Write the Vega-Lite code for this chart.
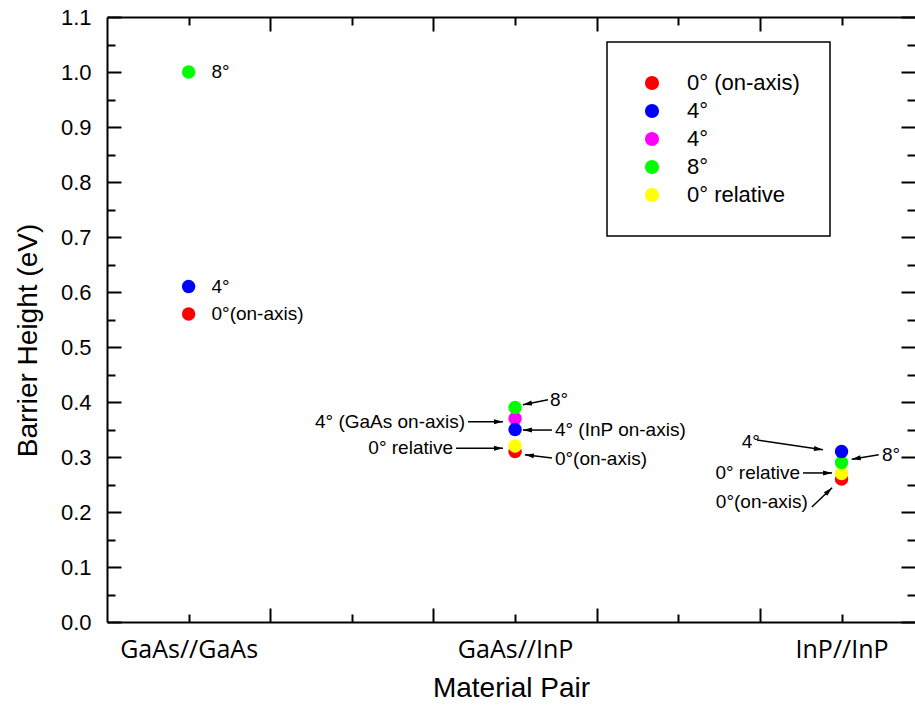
{
  "$schema": "https://vega.github.io/schema/vega-lite/v6.json",
  "width": 808,
  "height": 605,
  "autosize": {"type": "none"},
  "padding": {"left": 107, "top": 17, "right": 0, "bottom": 85},
  "background": "white",
  "config": {"view": {"stroke": null}},
  "datasets": {
    "points": [
      {"pair": 1, "bh": 0.56, "s": "a"},
      {"pair": 1, "bh": 0.61, "s": "b"},
      {"pair": 1, "bh": 1.0, "s": "d"},
      {"pair": 2, "bh": 0.31, "s": "a"},
      {"pair": 2, "bh": 0.37, "s": "c"},
      {"pair": 2, "bh": 0.32, "s": "e"},
      {"pair": 2, "bh": 0.39, "s": "d"},
      {"pair": 2, "bh": 0.35, "s": "b"},
      {"pair": 3, "bh": 0.26, "s": "a"},
      {"pair": 3, "bh": 0.27, "s": "e"},
      {"pair": 3, "bh": 0.29, "s": "d"},
      {"pair": 3, "bh": 0.31, "s": "b"}
    ],
    "labelsLeft": [
      {"x": 1.07, "y": 1.0, "t": "8°"},
      {"x": 1.07, "y": 0.61, "t": "4°"},
      {"x": 1.07, "y": 0.56, "t": "0°(on-axis)"},
      {"x": 2.107, "y": 0.404, "t": "8°"},
      {"x": 2.122, "y": 0.349, "t": "4° (InP on-axis)"},
      {"x": 2.122, "y": 0.296, "t": "0°(on-axis)"},
      {"x": 3.124, "y": 0.304, "t": "8°"}
    ],
    "labelsRight": [
      {"x": 1.847, "y": 0.364, "t": "4° (GaAs on-axis)"},
      {"x": 1.81, "y": 0.316, "t": "0° relative"},
      {"x": 2.75, "y": 0.327, "t": "4°"},
      {"x": 2.873, "y": 0.271, "t": "0° relative"},
      {"x": 2.897, "y": 0.218, "t": "0°(on-axis)"}
    ],
    "arrows": [
      {"x": 2.101, "y": 0.404, "x2": 2.024, "y2": 0.395},
      {"x": 1.856, "y": 0.364, "x2": 1.963, "y2": 0.364},
      {"x": 2.113, "y": 0.349, "x2": 2.024, "y2": 0.349},
      {"x": 1.819, "y": 0.316, "x2": 1.963, "y2": 0.316},
      {"x": 2.113, "y": 0.298, "x2": 2.03, "y2": 0.304},
      {"x": 2.741, "y": 0.331, "x2": 2.943, "y2": 0.313},
      {"x": 3.114, "y": 0.304, "x2": 3.031, "y2": 0.296},
      {"x": 2.882, "y": 0.271, "x2": 2.971, "y2": 0.271},
      {"x": 2.909, "y": 0.209, "x2": 2.971, "y2": 0.244}
    ]
  },
  "resolve": {"axis": {"x": "independent", "y": "independent"}},
  "layer": [
    {
      "data": {"name": "points"},
      "mark": {"type": "point", "filled": true, "opacity": 0},
      "encoding": {
        "x": {"field": "pair", "type": "quantitative",
          "scale": {"domain": [0.75, 3.225], "nice": false, "zero": false},
          "axis": {"orient": "top", "values": [1, 1.25, 1.5, 1.75, 2, 2.25, 2.5, 2.75, 3],
            "labels": false, "title": null, "grid": false,
            "domainColor": "black", "domainWidth": 2, "tickColor": "black", "tickWidth": 2,
            "tickSize": {"condition": {"test": "datum.value % 0.5 == 0", "value": -8}, "value": -14}}},
        "y": {"field": "bh", "type": "quantitative",
          "scale": {"domain": [0, 1.1], "nice": false},
          "axis": {"orient": "right", "values": [0, 0.05, 0.1, 0.15, 0.2, 0.25, 0.3, 0.35, 0.4, 0.45, 0.5, 0.55, 0.6, 0.65, 0.7, 0.75, 0.8, 0.85, 0.9, 0.95, 1.0, 1.05, 1.1],
            "labels": false, "title": null, "grid": false, "domain": false,
            "tickColor": "black", "tickWidth": 2,
            "tickSize": {"condition": {"test": "round(datum.value*100) % 10 != 0", "value": -8}, "value": -14}}}
      }
    },
    {
      "data": {"name": "arrows"},
      "mark": {"type": "rule", "color": "black", "strokeWidth": 1.5},
      "encoding": {
        "x": {"field": "x", "type": "quantitative", "axis": null},
        "y": {"field": "y", "type": "quantitative", "axis": null},
        "x2": {"field": "x2"},
        "y2": {"field": "y2"}
      }
    },
    {
      "data": {"name": "arrows"},
      "transform": [{"calculate": "atan2((datum.x2 - datum.x) * 326.5, (datum.y2 - datum.y) * 550) * 180 / PI", "as": "ang"}],
      "mark": {"type": "point", "filled": true, "color": "black", "opacity": 1, "shape": "M0,0L0.5,1.8L-0.5,1.8Z", "size": 100},
      "encoding": {
        "x": {"field": "x2", "type": "quantitative", "axis": null},
        "y": {"field": "y2", "type": "quantitative", "axis": null},
        "angle": {"field": "ang", "type": "quantitative", "scale": null}
      }
    },
    {
      "data": {"name": "points"},
      "mark": {"type": "point", "filled": true, "opacity": 1, "size": 180},
      "encoding": {
        "x": {"field": "pair", "type": "quantitative",
          "axis": {"orient": "bottom", "values": [1, 1.25, 1.5, 1.75, 2, 2.25, 2.5, 2.75, 3],
            "labelExpr": "datum.value == 1 ? 'GaAs//GaAs' : datum.value == 2 ? 'GaAs//InP' : datum.value == 3 ? 'InP//InP' : ''",
            "labelFont": "Open Sans", "labelFontSize": 25, "labelColor": "black", "labelPadding": 23,
            "title": "Material Pair", "titleFont": "Liberation Sans", "titleFontSize": 28, "titleFontWeight": "normal", "titleColor": "black", "titlePadding": 12,
            "grid": false, "domainColor": "black", "domainWidth": 2, "tickColor": "black", "tickWidth": 2,
            "tickSize": {"condition": {"test": "datum.value % 0.5 == 0", "value": -8}, "value": -14}}},
        "y": {"field": "bh", "type": "quantitative",
          "axis": {"orient": "left", "values": [0, 0.05, 0.1, 0.15, 0.2, 0.25, 0.3, 0.35, 0.4, 0.45, 0.5, 0.55, 0.6, 0.65, 0.7, 0.75, 0.8, 0.85, 0.9, 0.95, 1.0, 1.05, 1.1],
            "labelExpr": "round(datum.value*100) % 10 == 0 ? format(datum.value, '.1f') : ''",
            "labelFont": "Liberation Sans", "labelFontSize": 22, "labelColor": "black", "labelPadding": 30,
            "title": "Barrier Height (eV)", "titleFont": "Liberation Sans", "titleFontSize": 28, "titleFontWeight": "normal", "titleColor": "black",
            "titleX": -71, "titleY": 323, "titleBaseline": "alphabetic", "titleAngle": 270,
            "grid": false, "domainColor": "black", "domainWidth": 2, "tickColor": "black", "tickWidth": 2,
            "tickSize": {"condition": {"test": "round(datum.value*100) % 10 != 0", "value": -8}, "value": -14}}},
        "color": {"field": "s", "type": "nominal",
          "scale": {"domain": ["a", "b", "c", "d", "e"], "range": ["#ff0000", "#0000ff", "#ff00ff", "#00ff00", "#ffff00"]},
          "legend": {"orient": "none", "legendX": 500, "legendY": 25, "title": null,
            "labelExpr": "datum.label == 'a' ? '0° (on-axis)' : datum.label == 'b' ? '4°' : datum.label == 'c' ? '4°' : datum.label == 'd' ? '8°' : '0° relative'",
            "labelFont": "Liberation Sans", "labelFontSize": 22, "labelColor": "black",
            "symbolType": "circle", "symbolSize": 200, "symbolStrokeWidth": 0, "symbolOpacity": 1,
            "strokeColor": "black", "padding": 30, "symbolOffset": 4, "labelOffset": 24, "rowPadding": 6,
            "encode": {"legend": {"update": {"strokeWidth": {"value": 1.5}}}}}}
      }
    },
    {
      "data": {"name": "labelsLeft"},
      "mark": {"type": "text", "align": "left", "baseline": "middle", "font": "Liberation Sans", "fontSize": 19, "color": "black"},
      "encoding": {
        "x": {"field": "x", "type": "quantitative", "axis": null},
        "y": {"field": "y", "type": "quantitative", "axis": null},
        "text": {"field": "t"}
      }
    },
    {
      "data": {"name": "labelsRight"},
      "mark": {"type": "text", "align": "right", "baseline": "middle", "font": "Liberation Sans", "fontSize": 19, "color": "black"},
      "encoding": {
        "x": {"field": "x", "type": "quantitative", "axis": null},
        "y": {"field": "y", "type": "quantitative", "axis": null},
        "text": {"field": "t"}
      }
    }
  ]
}
